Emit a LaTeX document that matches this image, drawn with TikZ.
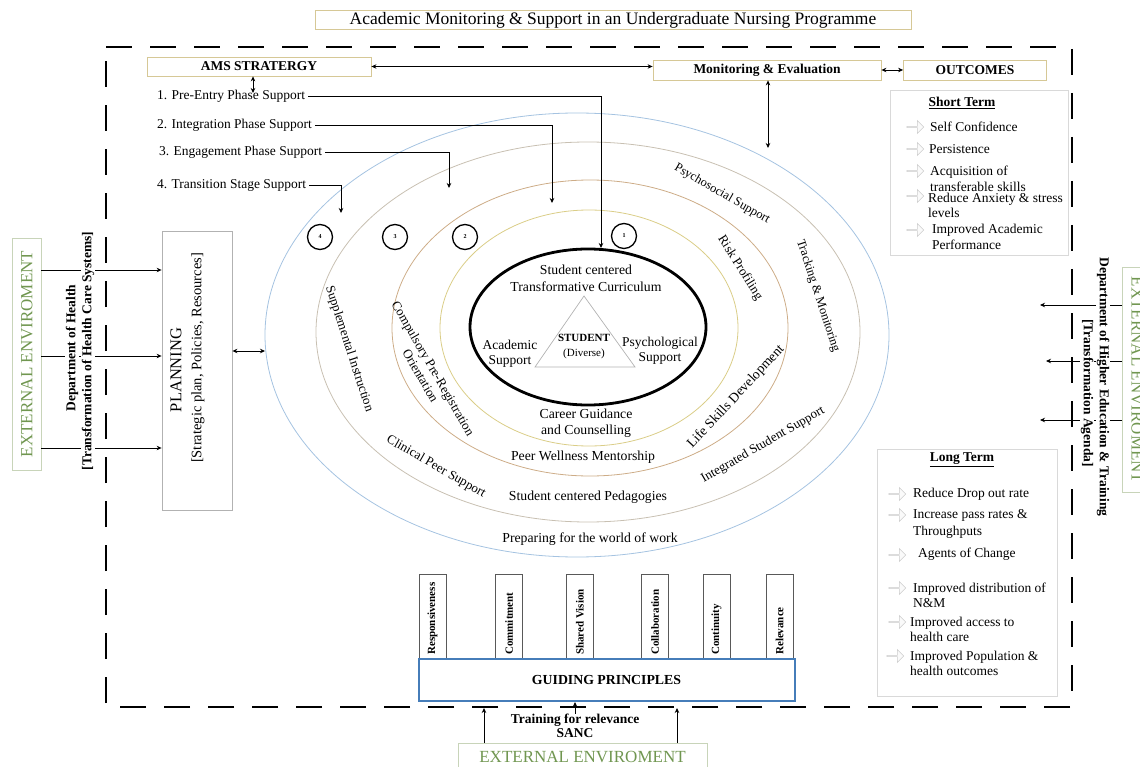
\documentclass[tikz,border=0pt]{standalone}
\usepackage{fontspec}
\setmainfont{Liberation Serif}
\usetikzlibrary{arrows.meta,shapes.geometric,shapes.arrows,calc}
\definecolor{tanb}{RGB}{214,200,150}
\definecolor{eea}{RGB}{165,195,225}
\definecolor{eeb}{RGB}{200,192,178}
\definecolor{eec}{RGB}{205,172,135}
\definecolor{eed}{RGB}{218,205,135}
\definecolor{greentxt}{RGB}{112,150,80}
\definecolor{greenbox}{RGB}{200,212,185}
\definecolor{gpblue}{RGB}{70,125,185}
\newcommand\fsz[2]{\fontsize{#1}{#2}\selectfont}
\tikzset{
  conn/.style={line width=0.8pt,-{Stealth[length=5pt,width=4.5pt]}},
  dconn/.style={line width=0.8pt,{Stealth[length=5pt,width=4.5pt]}-{Stealth[length=5pt,width=4.5pt]}},
  topbox/.style={draw=tanb,line width=0.8pt,inner sep=0pt,font=\fsz{13.5}{15}\bfseries},
  numc/.style={circle,draw,line width=1.3pt,minimum size=25pt,inner sep=0pt,font=\fsz{6}{7}\bfseries},
  ringtxt/.style={font=\fsz{13.75}{16},inner sep=0pt,align=center},
  phasetxt/.style={font=\fsz{13.5}{15},inner sep=0pt,outer sep=3pt,anchor=west},
  outtxt/.style={font=\fsz{13.5}{15.5},inner sep=0pt,anchor=west,align=left},
  outbox/.style={draw=gray!30,line width=0.8pt,inner sep=0pt},
  icon/.style={single arrow,draw=gray!40,fill=gray!4,line width=0.6pt,minimum height=17pt,minimum width=13pt,single arrow head extend=3pt,inner sep=0pt},
  gpbox/.style={draw=gray!70!black,line width=0.8pt,minimum width=27pt,minimum height=86pt,inner sep=0pt},
  gptxt/.style={rotate=90,anchor=west,font=\fsz{11}{13}\bfseries,inner sep=0pt},
  frame/.style={line width=2.6pt,dash pattern=on 26pt off 18pt},
  extbox/.style={draw=greenbox,line width=0.8pt,text=greentxt,inner sep=0pt,font=\fsz{17}{19}},
  depttxt/.style={font=\fsz{13.5}{16}\bfseries,fill=white,inner sep=1pt},
}
\begin{document}
\begin{tikzpicture}[x=1pt,y=-1pt]
\useasboundingbox (0,0) rectangle (1140,767);
% ellipses
\draw[eea,line width=0.8pt] (577,335) ellipse [x radius=312pt,y radius=222pt];
\draw[eeb,line width=0.8pt] (588,332) ellipse [x radius=272pt,y radius=190pt];
\draw[eec,line width=0.8pt] (590,328) ellipse [x radius=198pt,y radius=148pt];
\draw[eed,line width=0.8pt] (589,328) ellipse [x radius=149pt,y radius=118pt];
\node[ellipse,draw,line width=2.8pt,minimum width=236pt,minimum height=156pt,inner sep=0pt] (core) at (588,327) {};
\draw[gray!60,line width=0.7pt] (584,296) -- (535,367) -- (635,367) -- cycle;

% title and top boxes
\node[topbox,font=\fsz{17.5}{19},minimum width=596pt,minimum height=19pt] (title) at (613,20) {Academic Monitoring \& Support in an Undergraduate Nursing Programme};
\node[topbox,minimum width=224pt,minimum height=19pt] (ams) at (259,66.5) {AMS STRATERGY};
\node[topbox,minimum width=228pt,minimum height=20pt] (me) at (767,70) {Monitoring \& Evaluation};
\node[topbox,minimum width=143pt,minimum height=20pt] (out) at (975,70) {OUTCOMES};
\draw[dconn] (ams.east) -- (ams.east -| me.west);
\draw[dconn] (me.east) -- (out.west);
\coordinate (amsv) at (253,93);
\draw[dconn] (ams.south -| amsv) -- (amsv);
\coordinate (mev) at (768,148);
\draw[dconn] (mev |- me.south) -- (mev);

% phases
\node[phasetxt] (p1) at (154,96) {1. Pre-Entry Phase Support};
\node[phasetxt] (p2) at (154,125) {2. Integration Phase Support};
\node[phasetxt] (p3) at (156,152) {3. Engagement Phase Support};
\node[phasetxt] (p4) at (154,185) {4. Transition Stage Support};
\coordinate (a1) at (601,248);
\coordinate (a2) at (552,203);
\coordinate (a3) at (449,188);
\coordinate (a4) at (341,213);
\draw[conn] (p1.east) -| (a1);
\draw[conn] (p2.east) -| (a2);
\draw[conn] (p3.east) -| (a3);
\draw[conn] (p4.east) -| (a4);
\node[numc] (n4) at (320,237) {4};
\node[numc] (n3) at (395,237) {3};
\node[numc] (n2) at (465,237) {2};
\node[numc] (n1) at (624,236) {1};

% inner texts
\node[ringtxt,font=\fsz{13.75}{16.5}] (curr) at (586,278.5) {Student centered\\Transformative Curriculum};
\node[ringtxt,font=\fsz{11}{15}] (stud) at (584,346.5) {\textbf{STUDENT}\\(Diverse)};
\node[ringtxt,font=\fsz{13.5}{15.5}] (acad) at (510,354) {Academic\\Support};
\node[ringtxt,font=\fsz{13.5}{14.5}] (psyc) at (660,351) {Psychological\\Support};
\node[ringtxt,font=\fsz{13.75}{16.5}] (care) at (586,423) {Career Guidance\\and Counselling};
\node[ringtxt] (peer) at (583,457) {Peer Wellness Mentorship};
\node[ringtxt] (peda) at (588,497) {Student centered Pedagogies};
\node[ringtxt] (prep) at (590,539) {Preparing for the world of work};
\node[ringtxt,rotate=47] (life) at (736,397) {Life Skills Development};
\node[ringtxt,rotate=-58,font=\fsz{13}{15}] (risk) at (740,268) {Risk Profiling};
\node[ringtxt,rotate=-60,font=\fsz{13}{14.5}] (comp) at (427,372) {Compulsory Pre-Registration\\Orientation};
\node[ringtxt,rotate=-30,font=\fsz{13}{15}] (clin) at (436,467) {Clinical Peer Support};
\node[ringtxt,rotate=30,font=\fsz{13}{15}] (inte) at (763,445) {Integrated Student Support};
\node[ringtxt,rotate=-30,font=\fsz{12.5}{15}] (psso) at (722,194) {Psychosocial Support};
\node[ringtxt,rotate=-72,font=\fsz{13}{15}] (supp) at (349,349) {Supplemental Instruction};
\node[ringtxt,rotate=-72,font=\fsz{12.5}{15}] (trac) at (818,296) {Tracking \& Monitoring};

% left side
\node[extbox,rotate=90,minimum width=232pt,minimum height=29pt] (extl) at (27,354) {EXTERNAL ENVIROMENT};
\node[draw=gray!60,line width=0.8pt,minimum width=70pt,minimum height=279pt,inner sep=0pt] (plan) at (197,370.5) {};
\node[rotate=90,inner sep=0pt,font=\fsz{16.5}{20}] (plantxt1) at (176,370) {PLANNING};
\node[rotate=90,inner sep=0pt,font=\fsz{14.5}{20}] (plantxt2) at (198,358) {[Strategic plan, Policies, Resources]};
\coordinate (la1) at (41,270);
\coordinate (la2) at (41,356);
\coordinate (la3) at (41,448);
\draw[conn] (la1) -- (la1 -| plan.west);
\draw[conn] (la2) -- (la2 -| plan.west);
\draw[conn] (la3) -- (la3 -| plan.west);
\node[depttxt,rotate=90] (doh1) at (72,348) {Department of Health};
\node[depttxt,rotate=90] (doh2) at (88,351) {[Transformation of Health Care Systems]};
\coordinate (e1w) at (265,351);
\draw[dconn] (e1w -| plan.east) -- (e1w);

% right side
\node[extbox,rotate=-90,minimum width=225pt,minimum height=30pt] (extr) at (1137,380) {EXTERNAL ENVIROMENT};
\coordinate (ra1) at (1122,305);
\coordinate (ra2) at (1122,361);
\coordinate (ra3) at (1122,420);
\draw[conn] (ra1) -- ++(-82,0) coordinate (rb1);
\draw[conn] (ra2) -- ++(-76,0) coordinate (rb2);
\draw[conn] (ra3) -- ++(-82,0) coordinate (rb3);
\node[depttxt,rotate=-90] (dhe1) at (1103,387) {Department of Higher Education \& Training};
\node[depttxt,rotate=-90] (dhe2) at (1087,393) {[Transformation Agenda]};

% outcomes boxes
\node[outbox,minimum width=178pt,minimum height=165pt] (st) at (979,172.5) {};
\node[font=\fsz{13.5}{15}\bfseries,inner sep=0pt] (sth) at (962,103) {\underline{Short Term}};
\node[icon] (si1) at (915,127) {};
\node[icon] (si2) at (915,149) {};
\node[icon] (si3) at (915,171) {};
\node[icon] (si4) at (915,196) {};
\node[icon] (si5) at (915,230) {};
\node[outtxt] (s1) at (930,127) {Self Confidence};
\node[outtxt] (s2) at (929,149) {Persistence};
\node[outtxt,font=\fsz{13.5}{16}] (s3) at (930,178.5) {Acquisition of\\transferable skills};
\node[outtxt] (s4) at (928,205.5) {Reduce Anxiety \& stress\\levels};
\node[outtxt,font=\fsz{13.5}{16}] (s5) at (932,237) {Improved Academic\\Performance};

\node[outbox,minimum width=180pt,minimum height=247pt] (lt) at (967,572.5) {};
\node[font=\fsz{13.5}{15}\bfseries,inner sep=0pt] (lth) at (962,460) {\underline{Long Term}};
\node[icon] (li1) at (897,494) {};
\node[icon] (li2) at (897,515) {};
\node[icon] (li3) at (897,555) {};
\node[icon] (li4) at (897,588) {};
\node[icon] (li5) at (897,622) {};
\node[icon] (li6) at (895,656) {};
\node[outtxt] (l1) at (913,494) {Reduce Drop out rate};
\node[outtxt,font=\fsz{13.5}{17}] (l2) at (913,523.5) {Increase pass rates \&\\Throughputs};
\node[outtxt] (l3) at (918,554) {Agents of Change};
\node[outtxt] (l4) at (913,595.5) {Improved distribution of\\N\&M};
\node[outtxt] (l5) at (910,629.5) {Improved access to\\health care};
\node[outtxt] (l6) at (910,663.5) {Improved Population \&\\health outcomes};

% guiding principles
\node[gpbox] (g1) at (432.5,617) {};
\node[gpbox] (g2) at (509,617) {};
\node[gpbox] (g3) at (580,617) {};
\node[gpbox] (g4) at (655,617) {};
\node[gpbox] (g5) at (716.5,617) {};
\node[gpbox] (g6) at (779.5,617) {};
\node[gptxt] (gt1) at (432.5,655) {Responsiveness};
\node[gptxt] (gt2) at (509,655) {Commitment};
\node[gptxt] (gt3) at (580,655) {Shared Vision};
\node[gptxt] (gt4) at (655,655) {Collaboration};
\node[gptxt] (gt5) at (716.5,655) {Continuity};
\node[gptxt] (gt6) at (779.5,655) {Relevance};
\node[draw=gpblue,line width=2pt,fill=white,minimum width=376pt,minimum height=42pt,inner sep=0pt,font=\fsz{13.8}{16}\bfseries] (gp) at (606.5,679.5) {GUIDING PRINCIPLES};

% bottom external
\node[extbox,minimum width=249pt,minimum height=28pt] (extb) at (582.5,757) {EXTERNAL ENVIROMENT};
\node[font=\fsz{13.5}{14}\bfseries,inner sep=0pt,align=center] (train) at (575,726) {Training for relevance\\SANC};
\coordinate (ba1) at (484,708);
\coordinate (ba2) at (677,708);
\coordinate (ba3) at (575,702);
\draw[conn] (ba1 |- extb.north) -- (ba1);
\draw[conn] (ba2 |- extb.north) -- (ba2);
\draw[conn] (ba3 |- train.north) -- (ba3);

% frame
\draw[frame] (106,47) -- (1072,47) -- (1072,707) -- (106,707) -- cycle;
\end{tikzpicture}
\end{document}
